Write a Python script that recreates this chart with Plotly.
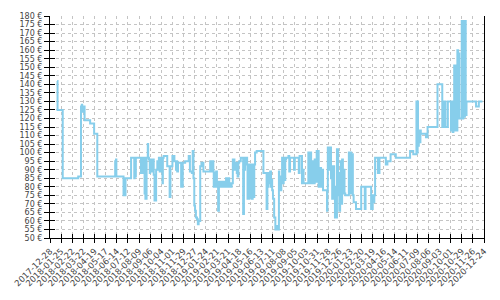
import plotly.graph_objects as go

dates = [
    "2018-01-15", "2018-01-16", "2018-01-29", "2018-03-09", "2018-03-16", "2018-03-17", "2018-03-18", "2018-03-19", "2018-03-20", "2018-03-25",
    "2018-04-08", "2018-04-18", "2018-04-26", "2018-06-10", "2018-06-11", "2018-06-12", "2018-06-13", "2018-07-01", "2018-07-06", "2018-07-20",
    "2018-07-28", "2018-07-29", "2018-07-30", "2018-08-01", "2018-08-14", "2018-08-15", "2018-08-17", "2018-08-19", "2018-08-23", "2018-08-25",
    "2018-08-28", "2018-08-31", "2018-09-01", "2018-09-03", "2018-09-05", "2018-09-06", "2018-09-10", "2018-09-12", "2018-09-15", "2018-09-17",
    "2018-09-21", "2018-09-24", "2018-09-26", "2018-09-28", "2018-09-30", "2018-10-02", "2018-10-05", "2018-10-07", "2018-10-08", "2018-10-10",
    "2018-10-19", "2018-10-25", "2018-10-27", "2018-11-01", "2018-11-06", "2018-11-10", "2018-11-11", "2018-11-13", "2018-11-15", "2018-11-23",
    "2018-11-27", "2018-12-03", "2018-12-12", "2018-12-15", "2018-12-20", "2018-12-22", "2018-12-24", "2018-12-26", "2018-12-28", "2018-12-30",
    "2019-01-02", "2019-01-04", "2019-01-06", "2019-01-10", "2019-01-13", "2019-01-18", "2019-02-04", "2019-02-07", "2019-02-09", "2019-02-12",
    "2019-02-13", "2019-02-15", "2019-02-17", "2019-02-19", "2019-02-21", "2019-02-24", "2019-02-26", "2019-03-01", "2019-03-04", "2019-03-07",
    "2019-03-10", "2019-03-12", "2019-03-16", "2019-03-18", "2019-03-20", "2019-03-24", "2019-03-26", "2019-03-28", "2019-03-30", "2019-04-02",
    "2019-04-06", "2019-04-09", "2019-04-12", "2019-04-14", "2019-04-16", "2019-04-18", "2019-04-22", "2019-04-28", "2019-04-30", "2019-05-03",
    "2019-05-08", "2019-05-09", "2019-05-11", "2019-05-12", "2019-05-14", "2019-05-16", "2019-05-18", "2019-05-20", "2019-05-22", "2019-05-24",
    "2019-05-26", "2019-05-28", "2019-06-01", "2019-06-18", "2019-06-26", "2019-06-28", "2019-06-30", "2019-07-01", "2019-07-03", "2019-07-05",
    "2019-07-07", "2019-07-08", "2019-07-10", "2019-07-12", "2019-07-15", "2019-07-18", "2019-07-20", "2019-07-24", "2019-07-27", "2019-07-28",
    "2019-07-31", "2019-08-02", "2019-08-04", "2019-08-06", "2019-08-08", "2019-08-10", "2019-08-12", "2019-08-14", "2019-08-20", "2019-08-22",
    "2019-08-24", "2019-09-03", "2019-09-05", "2019-09-15", "2019-09-17", "2019-09-23", "2019-09-25", "2019-09-27", "2019-10-09", "2019-10-11",
    "2019-10-13", "2019-10-16", "2019-10-19", "2019-10-22", "2019-10-25", "2019-10-28", "2019-10-30", "2019-11-04", "2019-11-07", "2019-11-10",
    "2019-11-13", "2019-11-15", "2019-11-23", "2019-11-25", "2019-11-26", "2019-11-27", "2019-11-29", "2019-12-01", "2019-12-05", "2019-12-08",
    "2019-12-10", "2019-12-13", "2019-12-15", "2019-12-20", "2019-12-23", "2019-12-25", "2019-12-26", "2019-12-28", "2019-12-30", "2020-01-01",
    "2020-01-02", "2020-01-04", "2020-01-06", "2020-01-08", "2020-01-10", "2020-01-19", "2020-01-21", "2020-01-23", "2020-01-25", "2020-01-27",
    "2020-01-29", "2020-01-31", "2020-02-06", "2020-02-19", "2020-02-25", "2020-02-28", "2020-03-01", "2020-03-15", "2020-03-19", "2020-03-21",
    "2020-03-23", "2020-03-25", "2020-04-01", "2020-04-05", "2020-04-21", "2020-04-25", "2020-05-03", "2020-05-16", "2020-06-21", "2020-06-29",
    "2020-07-07", "2020-07-08", "2020-07-10", "2020-07-11", "2020-07-13", "2020-07-15", "2020-07-17", "2020-07-18", "2020-07-31", "2020-08-04",
    "2020-08-29", "2020-09-10", "2020-09-12", "2020-09-14", "2020-09-16", "2020-09-18", "2020-09-24", "2020-10-02", "2020-10-04", "2020-10-06",
    "2020-10-08", "2020-10-10", "2020-10-13", "2020-10-18", "2020-10-20", "2020-10-23", "2020-10-29", "2020-10-31", "2020-11-02", "2020-11-04",
    "2020-11-06", "2020-11-08", "2020-11-10", "2020-12-04", "2020-12-11", "2020-12-20",
]

prices = [
    142, 125, 85, 86, 127, 124, 128, 124, 127, 119,
    117, 111, 86, 95, 86, 96, 86, 75, 85, 97,
    85, 97, 86, 97, 88, 97, 88, 97, 76, 73,
    97, 105, 97, 96, 88, 96, 89, 96, 87, 72,
    90, 95, 90, 97, 89, 95, 97, 82, 97, 98,
    92, 74, 92, 98, 95, 90, 95, 89, 94, 80,
    94, 95, 98, 89, 88, 101, 85, 69, 66, 62,
    61, 58, 60, 92, 94, 89, 95, 89, 95, 89,
    80, 88, 80, 89, 80, 66, 83, 80, 83, 80,
    83, 80, 85, 80, 85, 80, 82, 80, 82, 96,
    90, 94, 88, 86, 94, 95, 97, 64, 90, 97,
    93, 73, 93, 73, 93, 74, 93, 73, 93, 74,
    93, 100, 101, 88, 67, 88, 80, 88, 82, 89,
    80, 84, 78, 73, 62, 55, 57, 55, 89, 84,
    78, 86, 97, 82, 97, 84, 96, 97, 98, 89,
    97, 90, 97, 88, 98, 82, 90, 82, 100, 82,
    100, 82, 95, 82, 96, 83, 101, 80, 91, 80,
    90, 78, 78, 66, 78, 103, 90, 103, 85, 73,
    92, 80, 62, 102, 75, 88, 66, 88, 95, 70,
    96, 76, 90, 76, 75, 100, 76, 100, 76, 99,
    75, 71, 67, 80, 80, 67, 80, 67, 75, 71,
    75, 97, 88, 97, 93, 95, 99, 97, 101, 99,
    130, 100, 130, 104, 113, 106, 113, 111, 109, 115,
    140, 115, 130, 115, 130, 115, 130, 113, 130, 112,
    125, 151, 113, 160, 158, 120, 177, 120, 177, 121,
    177, 122, 130, 127, 130, 130,
]

x_start = "2017-12-28"
x_end = "2020-12-24"
y_min, y_max = 50, 180

fig = go.Figure()
fig.add_trace(go.Scatter(
    x=dates, y=prices, mode="lines",
    line=dict(color="#87CEEB", width=2, shape="hv"),
    hoverinfo="skip", showlegend=False,
))
# invisible helper traces so the overlay axes are drawn
fig.add_trace(go.Scatter(
    x=dates, y=prices, mode="lines", xaxis="x2", yaxis="y2",
    line=dict(color="rgba(0,0,0,0)", width=0), hoverinfo="skip", showlegend=False,
))
fig.add_trace(go.Scatter(
    x=dates, y=prices, mode="lines", xaxis="x", yaxis="y3",
    line=dict(color="rgba(0,0,0,0)", width=0), hoverinfo="skip", showlegend=False,
))

yfont = dict(family="DejaVu Sans", size=8, color="#444")
xfont = dict(family="DejaVu Sans", size=8.5, color="#444")
day_ms = 86400000

fig.update_layout(
    width=500, height=300,
    margin=dict(l=36, r=15, t=15, b=53),
    paper_bgcolor="white", plot_bgcolor="white",
    font=yfont,
    xaxis=dict(
        type="date", range=[x_start, x_end],
        tick0=x_start, dtick=28 * day_ms, tickformat="%Y-%m-%d",
        tickangle=-45, ticks="outside", ticklen=4, tickcolor="black", tickwidth=1,
        showline=True, linecolor="black", linewidth=1,
        showgrid=True, gridcolor="#c4c4c4", griddash="3px,3px", gridwidth=1,
        zeroline=False, tickfont=xfont,
    ),
    xaxis2=dict(
        type="date", range=[x_start, x_end], overlaying="x", side="bottom",
        tick0=x_start, dtick=28 * day_ms, ticks="inside", ticklen=4,
        tickcolor="black", showticklabels=False, showgrid=False, showline=False,
        zeroline=False,
    ),
    yaxis=dict(
        range=[y_min, y_max], tick0=50, dtick=5, ticksuffix=" €",
        ticks="outside", ticklen=5, tickcolor="black", tickwidth=1,
        showline=True, linecolor="black", linewidth=1,
        showgrid=True, gridcolor="#c4c4c4", griddash="3px,3px", gridwidth=1,
        zeroline=False, tickfont=yfont,
    ),
    yaxis2=dict(
        range=[y_min, y_max], overlaying="y", side="left", tick0=50, dtick=5,
        ticks="inside", ticklen=5, tickcolor="black", showticklabels=False,
        showgrid=False, showline=False, zeroline=False,
    ),
    yaxis3=dict(
        range=[y_min, y_max], overlaying="y", side="right",
        ticks="", showticklabels=False, showgrid=False,
        showline=True, linecolor="black", linewidth=1, zeroline=False,
    ),
)

fig.write_html("out.html")
